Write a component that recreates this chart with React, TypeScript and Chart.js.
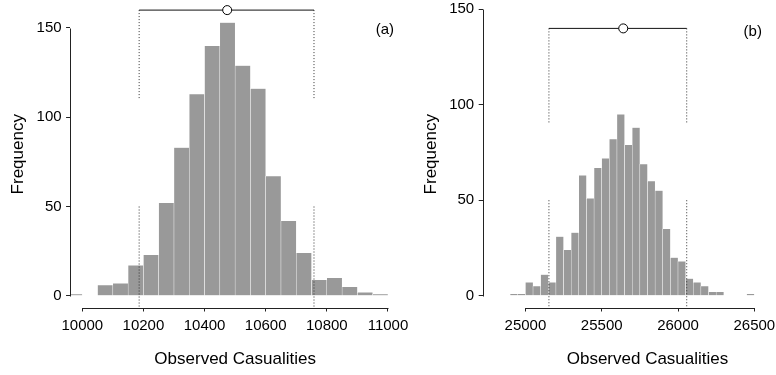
import React, { useEffect, useRef } from "react";
import { Chart, registerables } from "chart.js";

Chart.register(...registerables);

// ---------- data ----------
const binWidth = 50;

// panel (a)
const leftBinStarts = [9950, 10000, 10050, 10100, 10150, 10200, 10250, 10300, 10350, 10400, 10450, 10500, 10550, 10600, 10650, 10700, 10750, 10800, 10850, 10900, 10950];
const leftCounts = [1, 0, 6, 7, 17, 23, 52, 83, 113, 140, 153, 129, 116, 67, 42, 24, 9, 10, 5, 2, 1];
const leftXTicks = [10000, 10200, 10400, 10600, 10800, 11000];
const leftInterval = [10186, 10758];
const leftMean = 10474;
const leftIntervalY = 160;
const leftUpperDotEnd = 110;

// panel (b)
const rightBinStarts = [24900, 24950, 25000, 25050, 25100, 25150, 25200, 25250, 25300, 25350, 25400, 25450, 25500, 25550, 25600, 25650, 25700, 25750, 25800, 25850, 25900, 25950, 26000, 26050, 26100, 26150, 26200, 26250, 26300, 26350, 26400, 26450];
const rightCounts = [1, 1, 7, 5, 11, 7, 31, 24, 33, 63, 51, 67, 72, 82, 95, 79, 88, 69, 60, 55, 35, 20, 18, 9, 7, 5, 2, 2, 0, 0, 0, 1];
const rightXTicks = [25000, 25500, 26000, 26500];
const rightInterval = [25154, 26057];
const rightMean = 25641;
const rightIntervalY = 140;
const rightUpperDotEnd = 90;

const yTicks = [0, 50, 100, 150];
const lowerDotTop = 50;
const xTitle = "Observed Casualities";
const yTitle = "Frequency";

const FONT = '"Liberation Sans", Arial, Helvetica, sans-serif';

// R-style detached axes + panel tag
const rStyle = {
  id: "rStyle",
  afterDraw(chart: any, _args: any, opts: any) {
    const ctx = chart.ctx;
    const xs = chart.scales.x;
    const ys = chart.scales.y;
    const xt = xs.ticks;
    const yt = ys.ticks;
    const yb = Math.round(chart.chartArea.bottom) + 0.5;
    const xl = Math.round(chart.chartArea.left) + 0.5;
    ctx.save();
    ctx.strokeStyle = "#222";
    ctx.lineWidth = 1;
    ctx.beginPath();
    ctx.moveTo(Math.round(xs.getPixelForValue(xt[0].value)) + 0.5, yb);
    ctx.lineTo(Math.round(xs.getPixelForValue(xt[xt.length - 1].value)) + 0.5, yb);
    ctx.moveTo(xl, Math.round(ys.getPixelForValue(yt[0].value)) + 0.5);
    ctx.lineTo(xl, Math.round(ys.getPixelForValue(yt[yt.length - 1].value)) + 0.5);
    ctx.stroke();
    ctx.font = "15px " + FONT;
    ctx.fillStyle = "#000";
    ctx.textAlign = "center";
    ctx.textBaseline = "middle";
    ctx.fillText(opts.text, xs.getPixelForValue(opts.x), ys.getPixelForValue(opts.y));
    ctx.restore();
  },
};

function buildConfig(p: any) {
  const bars = p.starts.map((s: number, i: number) => ({ x: s + binWidth / 2, y: p.counts[i] }));
  const dotStyle = {
    type: "line",
    borderColor: "#333",
    borderWidth: 1,
    borderDash: [1, 2],
    pointRadius: 0,
    fill: false,
    order: 1,
  };
  return {
    type: "bar",
    data: {
      datasets: [
        {
          type: "line",
          data: [{ x: p.mean, y: p.iy }],
          showLine: false,
          pointRadius: 4.5,
          pointBackgroundColor: "#fff",
          pointBorderColor: "#000",
          pointBorderWidth: 1,
          order: 0,
          clip: false,
        },
        {
          type: "line",
          data: [
            { x: p.interval[0], y: p.iy },
            { x: p.interval[1], y: p.iy },
          ],
          borderColor: "#111",
          borderWidth: 1,
          pointRadius: 0,
          fill: false,
          order: 1,
        },
        { ...dotStyle, data: [{ x: p.interval[0], y: p.iy }, { x: p.interval[0], y: p.upEnd }] },
        { ...dotStyle, data: [{ x: p.interval[1], y: p.iy }, { x: p.interval[1], y: p.upEnd }] },
        { ...dotStyle, data: [{ x: p.interval[0], y: lowerDotTop }, { x: p.interval[0], y: p.yMin }] },
        { ...dotStyle, data: [{ x: p.interval[1], y: lowerDotTop }, { x: p.interval[1], y: p.yMin }] },
        {
          type: "bar",
          data: bars,
          backgroundColor: "#999999",
          borderColor: "#ffffff",
          borderWidth: { left: 0.5, right: 0.5, top: 0.5, bottom: 0 },
          borderSkipped: false,
          barPercentage: 1,
          categoryPercentage: 1,
          order: 2,
        },
      ],
    },
    options: {
      responsive: false,
      animation: false,
      devicePixelRatio: 1,
      events: [],
      layout: { padding: p.padding, autoPadding: false },
      plugins: {
        legend: { display: false },
        tooltip: { enabled: false },
        rStyle: { text: p.tag, x: p.tagX, y: p.tagY },
      },
      scales: {
        x: {
          type: "linear",
          min: p.xMin,
          max: p.xMax,
          offset: false,
          afterBuildTicks: (s: any) => {
            s.ticks = p.xTicks.map((v: number) => ({ value: v }));
          },
          afterFit: (s: any) => {
            s.height = p.xHeight;
            s.paddingLeft = 0;
            s.paddingRight = 0;
            s.paddingTop = 0;
            s.paddingBottom = 0;
          },
          border: { display: false },
          grid: {
            display: true,
            drawOnChartArea: false,
            drawTicks: true,
            tickLength: 4,
            offset: false,
            color: "#222",
          },
          ticks: {
            autoSkip: false,
            maxRotation: 0,
            minRotation: 0,
            padding: 5.5,
            color: "#000",
            font: { family: FONT, size: 15 },
            callback: (v: any) => String(v),
          },
          title: {
            display: true,
            text: xTitle,
            color: "#000",
            font: { family: FONT, size: 17 },
            padding: { top: 0, bottom: 5.5 },
          },
        },
        y: {
          type: "linear",
          min: p.yMin,
          max: p.yMax,
          afterBuildTicks: (s: any) => {
            s.ticks = yTicks.map((v: number) => ({ value: v }));
          },
          afterFit: (s: any) => {
            s.width = p.yWidth;
            s.paddingLeft = 0;
            s.paddingRight = 0;
            s.paddingTop = 0;
            s.paddingBottom = 0;
          },
          border: { display: false },
          grid: {
            display: true,
            drawOnChartArea: false,
            drawTicks: true,
            tickLength: 4,
            color: "#222",
          },
          ticks: {
            padding: 4.5,
            color: "#000",
            font: { family: FONT, size: 15 },
            callback: (v: any) => String(v),
          },
          title: {
            display: true,
            text: yTitle,
            color: "#000",
            font: { family: FONT, size: 17 },
            padding: { top: 7.8, bottom: 0 },
          },
        },
      },
    },
    plugins: [rStyle],
  };
}

const leftParams = {
  starts: leftBinStarts,
  counts: leftCounts,
  xTicks: leftXTicks,
  interval: leftInterval,
  mean: leftMean,
  iy: leftIntervalY,
  upEnd: leftUpperDotEnd,
  xMin: 9960,
  xMax: 11040,
  yMin: -6.55,
  yMax: 165.1,
  yWidth: 70.07,
  xHeight: 67.5,
  padding: { left: 0, right: 776 - 400.2, top: 1, bottom: 0 },
  tag: "(a)",
  tagX: 10990,
  tagY: 149,
};

const rightParams = {
  starts: rightBinStarts,
  counts: rightCounts,
  xTicks: rightXTicks,
  interval: rightInterval,
  mean: rightMean,
  iy: rightIntervalY,
  upEnd: rightUpperDotEnd,
  xMin: 24720,
  xMax: 26880,
  yMin: -6.18,
  yMax: 154.35,
  yWidth: 69.2,
  xHeight: 67.5,
  padding: { left: 413.5, right: 830 - 812.3, top: 1, bottom: 0 },
  tag: "(b)",
  tagX: 26490,
  tagY: 138,
};

function Panel({ params, width }: { params: any; width: number }) {
  const ref = useRef<HTMLCanvasElement | null>(null);
  useEffect(() => {
    if (!ref.current) return;
    const chart = new Chart(ref.current, buildConfig(params) as any);
    return () => chart.destroy();
  }, []);
  return (
    <canvas
      ref={ref}
      width={width}
      height={375}
      style={{ position: "absolute", left: 0, top: 0, width, height: 375 }}
    />
  );
}

export default function App() {
  return (
    <div
      style={{
        position: "fixed",
        left: 0,
        top: 0,
        width: 776,
        height: 375,
        overflow: "hidden",
        background: "#fff",
      }}
    >
      <Panel params={leftParams} width={776} />
      <Panel params={rightParams} width={830} />
    </div>
  );
}
